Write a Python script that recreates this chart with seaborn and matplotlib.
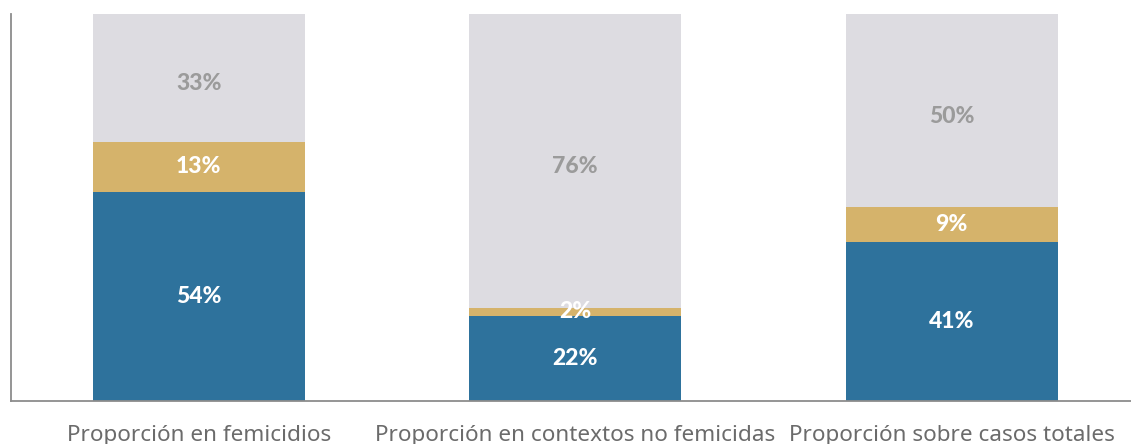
import pandas as pd
import numpy as np
import matplotlib.pyplot as plt
import seaborn as sns

# Data
categories = ['Proporción en femicidios', 'Proporción en contextos no femicidas', 'Proporción sobre casos totales']
blue_vals = [54, 22, 41]
gold_vals = [13, 2, 9]
grey_vals = [33, 76, 50]

df = pd.DataFrame({
    'cat': categories,
    'blue': blue_vals,
    'gold': gold_vals,
    'grey': grey_vals,
})
df['blue_top'] = df['blue']
df['gold_top'] = df['blue'] + df['gold']
df['grey_top'] = df['gold_top'] + df['grey']

sns.set_style('white')
plt.rcParams['font.family'] = ['Noto Sans', 'DejaVu Sans']

c_blue = '#2e729c'
c_gold = '#d5b36b'
c_grey = '#dddce1'

fig = plt.figure(figsize=(11.31, 4.44), dpi=100)
ax = fig.add_axes([10.5 / 1131, 43 / 444, (1131 - 10.5) / 1131, 387 / 444])

w = 0.563
# stacked bars drawn back to front using cumulative tops
sns.barplot(data=df, x='cat', y='grey_top', color=c_grey, width=w, saturation=1, ax=ax)
sns.barplot(data=df, x='cat', y='gold_top', color=c_gold, width=w, saturation=1, ax=ax)
sns.barplot(data=df, x='cat', y='blue_top', color=c_blue, width=w, saturation=1, ax=ax)
for p in ax.patches:
    p.set_linewidth(0)

ax.set_ylim(0, 100)
ax.set_xlim(-0.5, 2 + (1131 - 951.5) / 376.5)

# value labels, centred in each segment
lab = dict(ha='center', va='center', fontsize=16.5, fontweight='black', family=['Lato', 'DejaVu Sans'])
for i in range(len(categories)):
    b, g, r = blue_vals[i], gold_vals[i], grey_vals[i]
    ax.text(i, b / 2, f'{b}%', color='white', **lab)
    ax.text(i, b + g / 2, f'{g}%', color='white', **lab)
    ax.text(i, b + g + r / 2 - 1.5, f'{r}%', color='#9b9b9b', **lab)

# axes styling
for s in ['top', 'right']:
    ax.spines[s].set_visible(False)
for s in ['left', 'bottom']:
    ax.spines[s].set_color('#8c8c8c')
    ax.spines[s].set_linewidth(1.3)
ax.set_yticks([])
ax.set_xlabel('')
ax.set_ylabel('')

ax.set_xticks([0.5, 1.5], minor=True)
ax.set_xticks(range(len(categories)))
ax.set_xticklabels(categories, fontsize=16.2, color='#6b6b6b')
ax.tick_params(axis='x', which='major', length=0, pad=17)
ax.tick_params(axis='x', which='minor', direction='in', length=9, width=1.1, color='#8c8c8c')

fig.savefig('out.png', dpi=100)
